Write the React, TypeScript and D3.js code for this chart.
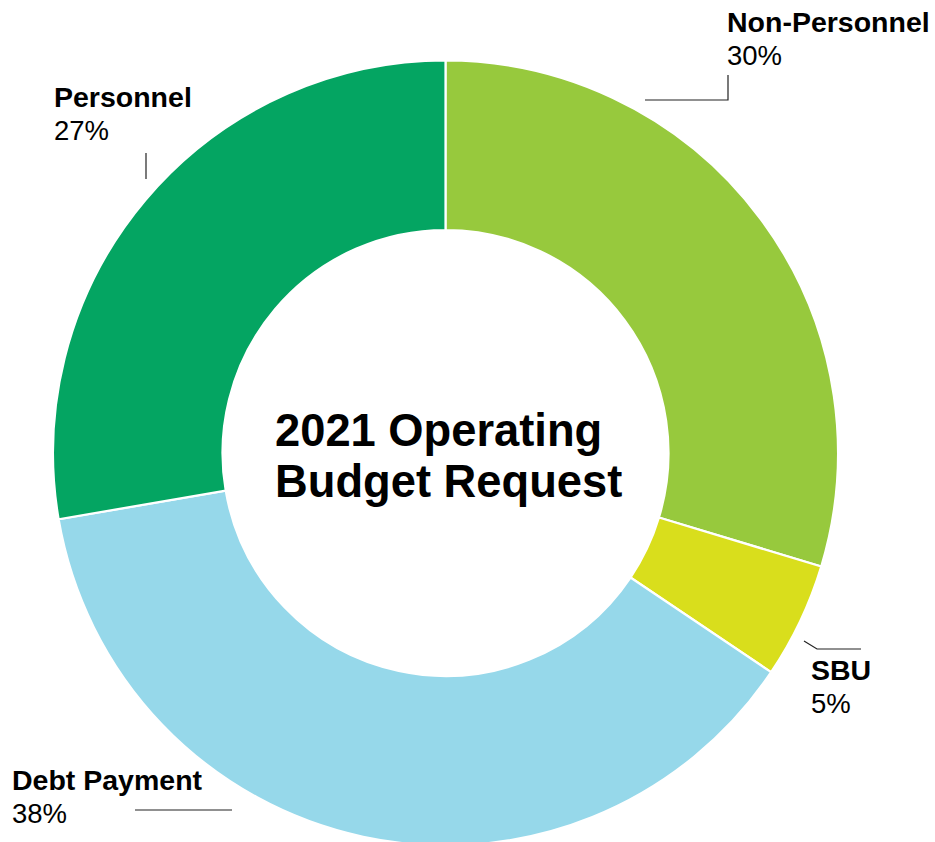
import React from "react";
import * as d3 from "d3";

// ---- Data ----
const categories = ["Non-Personnel", "SBU", "Debt Payment", "Personnel"];
const shares = [29.67, 4.76, 37.87, 27.7];
const shareLabels = ["30%", "5%", "38%", "27%"];
const colors = ["#97C93D", "#D9DE1C", "#96D8EA", "#04A562"];
const titleLines = ["2021 Operating", "Budget Request"];

// ---- Layout (annotation positions) ----
const W = 935;
const H = 842;
const CX = 445.5;
const CY = 453;
const R_OUT = 392.5;
const R_IN = 223;
const TITLE_X = 275;

const labelLayout = [
  { x: 727, y: 32, leader: [[645, 100], [728, 100], [728, 75]] },
  { x: 811, y: 680, leader: [[804, 641], [817, 649], [861, 649]] },
  { x: 12, y: 790, leader: [[135, 810], [232, 810]] },
  { x: 54, y: 107, leader: [[146, 153], [146, 179]] },
];

const FONT = "'Liberation Sans', Arial, Helvetica, sans-serif";

export default function App() {
  const pie = d3
    .pie<number>()
    .sort(null)
    .value((d) => d)
    .startAngle(0)
    .endAngle(2 * Math.PI);
  const arcs = pie(shares);
  const arc = d3.arc<d3.PieArcDatum<number>>().innerRadius(R_IN).outerRadius(R_OUT);
  const line = d3.line();

  return (
    <svg
      width={W}
      height={H}
      style={{ position: "absolute", left: 0, top: 0, background: "#fff" }}
      fontFamily={FONT}
    >
      <g transform={`translate(${CX},${CY})`}>
        {arcs.map((a, i) => (
          <path
            key={categories[i]}
            d={arc(a) || ""}
            fill={colors[i]}
            stroke="#ffffff"
            strokeWidth={2.2}
            strokeLinejoin="miter"
          />
        ))}
      </g>
      {titleLines.map((t, i) => (
        <text
          key={t}
          x={TITLE_X}
          y={446 + i * 51}
          fontSize={45.3}
          fontWeight="bold"
          fill="#000"
        >
          {t}
        </text>
      ))}
      {categories.map((c, i) => {
        const L = labelLayout[i];
        return (
          <g key={c}>
            <path
              d={line(L.leader as [number, number][]) || ""}
              fill="none"
              stroke="#222"
              strokeWidth={1.2}
            />
            <text x={L.x} y={L.y} fontSize={28.5} fontWeight="bold" fill="#000">
              {c}
            </text>
            <text x={L.x} y={L.y + 33} fontSize={27.5} fill="#000">
              {shareLabels[i]}
            </text>
          </g>
        );
      })}
    </svg>
  );
}
